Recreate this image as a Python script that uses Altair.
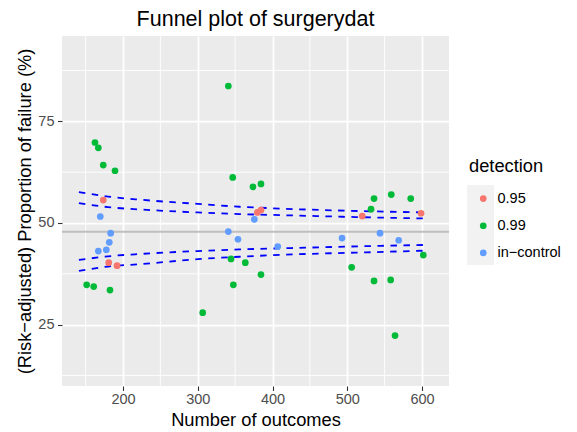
import altair as alt
import pandas as pd

# ---- data ----
red_x = [173.6, 180.9, 192.0, 379.7, 384.6, 520.1, 598.7]
red_y = [55.65, 40.25, 39.5, 52.6, 53.2, 51.7, 52.4]

green_x = [340.9, 162.5, 167.0, 173.6, 189.3, 346.8, 373.9, 384.6, 535.8, 558.9,
           584.9, 531.8, 151.4, 160.8, 182.6, 306.6, 344.5, 363.6, 347.6, 384.6,
           505.9, 535.8, 558.1, 563.9, 601.7]
green_y = [83.7, 69.8, 68.5, 64.25, 62.85, 61.2, 58.9, 59.6, 56.0, 57.0,
           56.0, 53.4, 34.8, 34.35, 33.5, 27.95, 41.15, 40.25, 34.8, 37.3,
           39.1, 35.75, 36.0, 22.3, 42.1]

blue_x = [169.6, 183.5, 181.7, 167.0, 177.7, 340.9, 353.8, 375.7, 407.0, 493.0, 543.8, 568.8]
blue_y = [51.6, 47.5, 45.25, 43.1, 43.4, 47.9, 46.0, 50.9, 44.2, 46.3, 47.5, 45.75]

categories = ["0.95", "0.99", "in\u2212control"]
colors = ["#F8766D", "#00BA38", "#619CFF"]

limit_x = [141, 180, 225, 300, 356, 417, 550, 605]
upper_outer = [57.6, 56.5, 55.7, 54.7, 54.0, 53.5, 52.8, 52.6]
upper_inner = [54.9, 53.9, 53.3, 52.6, 52.2, 51.9, 51.3, 51.1]
lower_inner = [40.9, 41.8, 42.4, 43.1, 43.5, 43.8, 44.4, 44.6]
lower_outer = [38.2, 39.3, 39.9, 41.1, 41.7, 42.2, 42.9, 43.2]

center_value = [47.85]

x_major = [200, 300, 400, 500, 600]
x_minor = [150, 250, 350, 450, 550]
y_major = [25, 50, 75]
y_minor = [12.5, 37.5, 62.5, 87.5]

x_domain = [118.4, 636.1]
y_domain = [9.9, 96.0]

# ---- tables ----
pts = pd.DataFrame({
    "n": red_x + green_x + blue_x,
    "p": red_y + green_y + blue_y,
    "detection": [categories[0]] * len(red_x) + [categories[1]] * len(green_x)
                 + [categories[2]] * len(blue_x),
})

lim_rows = []
for name, vals in [("uo", upper_outer), ("ui", upper_inner),
                   ("li", lower_inner), ("lo", lower_outer)]:
    for xv, yv in zip(limit_x, vals):
        lim_rows.append({"n": xv, "p": yv, "line": name})
lims = pd.DataFrame(lim_rows)

FONT = "Liberation Sans"
xs = alt.Scale(domain=x_domain, nice=False, zero=False)
ys = alt.Scale(domain=y_domain, nice=False, zero=False)

xgrid_minor = alt.Chart(pd.DataFrame({"v": x_minor})).mark_rule(
    color="white", strokeWidth=0.9).encode(x=alt.X("v:Q", scale=xs))
ygrid_minor = alt.Chart(pd.DataFrame({"v": y_minor})).mark_rule(
    color="white", strokeWidth=0.9).encode(y=alt.Y("v:Q", scale=ys))

center = alt.Chart(pd.DataFrame({"v": center_value})).mark_rule(
    color="#BEBEBE", strokeWidth=1.8).encode(y=alt.Y("v:Q", scale=ys))

lines = alt.Chart(lims).mark_line(
    color="#0000FF", strokeWidth=1.8, strokeDash=[6.5, 6.5], interpolate="monotone"
).encode(
    x=alt.X("n:Q", scale=xs),
    y=alt.Y("p:Q", scale=ys),
    detail="line:N",
)

points = alt.Chart(pts).mark_circle(size=45, opacity=1).encode(
    x=alt.X("n:Q", scale=xs,
            axis=alt.Axis(values=x_major, title="Number of outcomes", grid=True,
                          titleY=39, titleBaseline="alphabetic", labelPadding=2)),
    y=alt.Y("p:Q", scale=ys,
            axis=alt.Axis(values=y_major, title="(Risk\u2212adjusted) Proportion of failure (%)",
                          grid=True)),
    color=alt.Color("detection:N",
                    scale=alt.Scale(domain=categories, range=colors),
                    legend=alt.Legend(title="detection", orient="none",
                                      legendX=407, legendY=122,
                                      symbolType="circle", symbolSize=45,
                                      symbolOffset=7, labelOffset=7,
                                      rowPadding=12.2, titlePadding=15,
                                      padding=0)),
)

keybg = alt.Chart(pd.DataFrame({"a": [0]})).mark_rect(color="#F2F2F2").encode(
    x=alt.value(405), x2=alt.value(432), y=alt.value(149), y2=alt.value(229))

chart = alt.layer(xgrid_minor, ygrid_minor, center, lines, points, keybg).properties(
    width=387, height=350,
    autosize=alt.AutoSizeParams(type="none"),
    padding={"left": 54, "top": 28, "right": 120, "bottom": 42},
    title=alt.TitleParams("Funnel plot of surgerydat", anchor="middle", frame="group",
                          fontSize=21.5, font=FONT, fontWeight="normal",
                          color="black", baseline="alphabetic", offset=14, dy=26),
).configure_view(
    fill="#EBEBEB", stroke=None,
).configure_axis(
    domain=False, gridColor="white", gridWidth=1.75,
    tickColor="#333333", tickSize=4.5, tickWidth=1.1,
    labelColor="#4D4D4D", labelFont=FONT, labelFontSize=14.5, labelPadding=3.5,
    titleFont=FONT, titleFontSize=18.3, titleColor="black", titleFontWeight="normal",
    titlePadding=3,
).configure_legend(
    titleFont=FONT, titleFontSize=18.3, titleFontWeight="normal", titleColor="black",
    labelFont=FONT, labelFontSize=14.5, labelColor="black",
)

chart.save("out.html", embed_options={"renderer": "svg", "actions": False})
